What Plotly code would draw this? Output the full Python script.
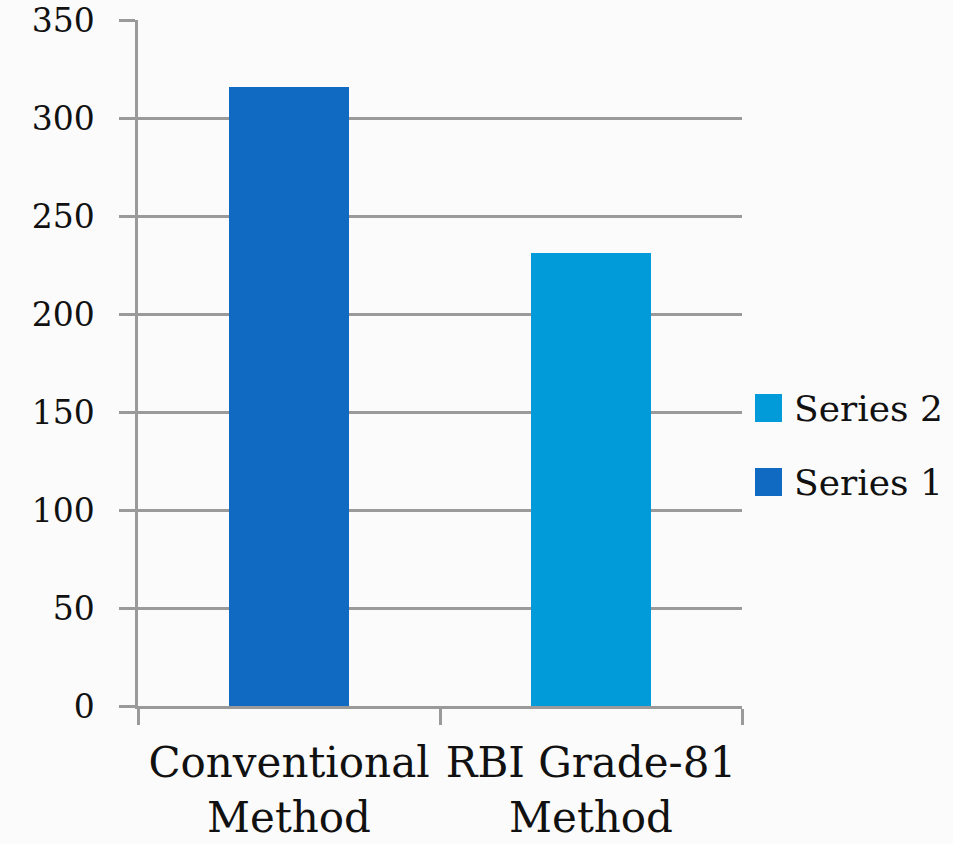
import plotly.graph_objects as go

# Chart data
categories = ["Conventional<br>Method", "RBI Grade-81<br>Method"]
series_names = ["Series 1", "Series 2"]
series_1 = [316, None]
series_2 = [None, 231]
y_ticks = [0, 50, 100, 150, 200, 250, 300, 350]

colors = {"Series 1": "#106ac2", "Series 2": "#009bd8"}
font_family = "DejaVu Serif"
grid_color = "#9a9a9a"

fig = go.Figure()
for name, vals in zip(series_names, [series_1, series_2]):
    fig.add_trace(go.Bar(
        x=categories, y=vals, name=name, width=0.4,
        marker=dict(color=colors[name], line=dict(width=0)),
        showlegend=False,
    ))

W, H = 953, 844
left, right, top, bottom = 138, 742, 20, 706
pw, ph = right - left, bottom - top


def px(x):
    return (x - left) / pw


def py(y):
    return (bottom - y) / ph


# Legend drawn as coloured squares with text, Series 2 on top
shapes = []
annotations = []
legend_rows = [("Series 2", 408), ("Series 1", 482)]
for name, cy in legend_rows:
    shapes.append(dict(
        type="rect", xref="paper", yref="paper",
        x0=px(755), x1=px(782), y0=py(cy + 14), y1=py(cy - 14),
        fillcolor=colors[name], line=dict(width=0),
    ))
    annotations.append(dict(
        xref="paper", yref="paper", x=px(792), y=py(cy),
        xanchor="left", yanchor="middle", text=name, showarrow=False,
        font=dict(family=font_family, size=36, color="#111111"),
    ))

fig.update_layout(
    width=W, height=H,
    margin=dict(l=left, r=W - right, t=top, b=H - bottom, pad=0),
    paper_bgcolor="#fbfbfb", plot_bgcolor="#fbfbfb",
    barmode="stack",
    shapes=shapes, annotations=annotations,
    xaxis=dict(
        type="category", showgrid=False, showline=True, automargin=False,
        linecolor=grid_color, linewidth=2.5,
        ticks="outside", tickson="boundaries", ticklen=16,
        tickcolor=grid_color, tickwidth=2.5,
        tickfont=dict(family=font_family, size=42, color="#111111"),
        ticklabelstandoff=18,
    ),
    yaxis=dict(
        range=[0, 350], tickvals=y_ticks, showgrid=True, automargin=False,
        gridcolor=grid_color, gridwidth=2.5, zeroline=False,
        showline=True, linecolor=grid_color, linewidth=2.5,
        ticks="outside", ticklen=16, tickcolor=grid_color, tickwidth=2.5,
        tickfont=dict(family=font_family, size=33, color="#111111"),
        ticklabelstandoff=18,
    ),
)

fig.write_html("out.html")
